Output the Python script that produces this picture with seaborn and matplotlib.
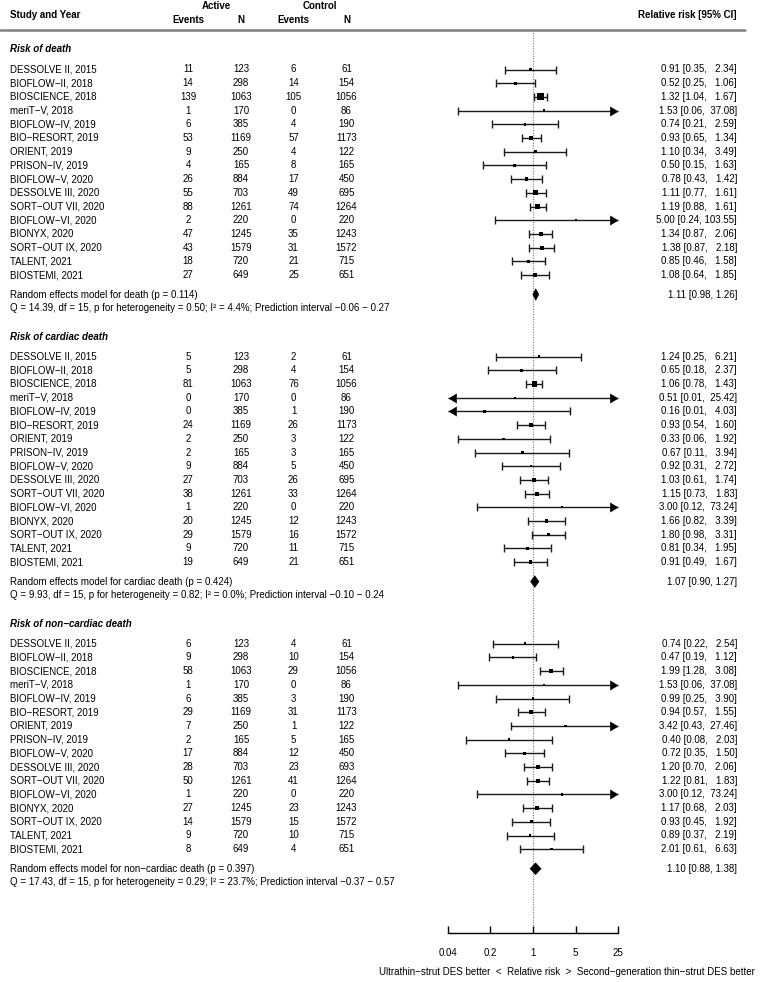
import numpy as np
import pandas as pd
import matplotlib
matplotlib.use("Agg")
import matplotlib.pyplot as plt
import seaborn as sns
from matplotlib.transforms import blended_transform_factory
from matplotlib.path import Path
from matplotlib.lines import Line2D
from matplotlib.ticker import NullLocator

# ---------------- data ----------------
studies = ["DESSOLVE II, 2015", "BIOFLOW\u2212II, 2018", "BIOSCIENCE, 2018", "meriT\u2212V, 2018",
           "BIOFLOW\u2212IV, 2019", "BIO\u2212RESORT, 2019", "ORIENT, 2019", "PRISON\u2212IV, 2019",
           "BIOFLOW\u2212V, 2020", "DESSOLVE III, 2020", "SORT\u2212OUT VII, 2020", "BIOFLOW\u2212VI, 2020",
           "BIONYX, 2020", "SORT\u2212OUT IX, 2020", "TALENT, 2021", "BIOSTEMI, 2021"]

active_n = [123, 298, 1063, 170, 385, 1169, 250, 165, 884, 703, 1261, 220, 1245, 1579, 720, 649]
control_n = [61, 154, 1056, 86, 190, 1173, 122, 165, 450, 695, 1264, 220, 1243, 1572, 715, 651]
control_n_noncardiac = [61, 154, 1056, 86, 190, 1173, 122, 165, 450, 693, 1264, 220, 1243, 1572, 715, 651]

death_act_ev = [11, 14, 139, 1, 6, 53, 9, 4, 26, 55, 88, 2, 47, 43, 18, 27]
death_ctl_ev = [6, 14, 105, 0, 4, 57, 4, 8, 17, 49, 74, 0, 35, 31, 21, 25]
death_rr = [0.91, 0.52, 1.32, 1.53, 0.74, 0.93, 1.10, 0.50, 0.78, 1.11, 1.19, 5.00, 1.34, 1.38, 0.85, 1.08]
death_lo = [0.35, 0.25, 1.04, 0.06, 0.21, 0.65, 0.34, 0.15, 0.43, 0.77, 0.88, 0.24, 0.87, 0.87, 0.46, 0.64]
death_hi = [2.34, 1.06, 1.67, 37.08, 2.59, 1.34, 3.49, 1.63, 1.42, 1.61, 1.61, 103.55, 2.06, 2.18, 1.58, 1.85]

card_act_ev = [5, 5, 81, 0, 0, 24, 2, 2, 9, 27, 38, 1, 20, 29, 9, 19]
card_ctl_ev = [2, 4, 76, 0, 1, 26, 3, 3, 5, 26, 33, 0, 12, 16, 11, 21]
card_rr = [1.24, 0.65, 1.06, 0.51, 0.16, 0.93, 0.33, 0.67, 0.92, 1.03, 1.15, 3.00, 1.66, 1.80, 0.81, 0.91]
card_lo = [0.25, 0.18, 0.78, 0.01, 0.01, 0.54, 0.06, 0.11, 0.31, 0.61, 0.73, 0.12, 0.82, 0.98, 0.34, 0.49]
card_hi = [6.21, 2.37, 1.43, 25.42, 4.03, 1.60, 1.92, 3.94, 2.72, 1.74, 1.83, 73.24, 3.39, 3.31, 1.95, 1.67]

nonc_act_ev = [6, 9, 58, 1, 6, 29, 7, 2, 17, 28, 50, 1, 27, 14, 9, 8]
nonc_ctl_ev = [4, 10, 29, 0, 3, 31, 1, 5, 12, 23, 41, 0, 23, 15, 10, 4]
nonc_rr = [0.74, 0.47, 1.99, 1.53, 0.99, 0.94, 3.42, 0.40, 0.72, 1.20, 1.22, 3.00, 1.17, 0.93, 0.89, 2.01]
nonc_lo = [0.22, 0.19, 1.28, 0.06, 0.25, 0.57, 0.43, 0.08, 0.35, 0.70, 0.81, 0.12, 0.68, 0.45, 0.37, 0.61]
nonc_hi = [2.54, 1.12, 3.08, 37.08, 3.90, 1.55, 27.46, 2.03, 1.50, 2.06, 1.83, 73.24, 2.03, 1.92, 2.19, 6.63]

panel_titles = ["Risk of death", "Risk of cardiac death", "Risk of non\u2212cardiac death"]
re_labels = ["Random effects model for death (p = 0.114)",
             "Random effects model for cardiac death (p = 0.424)",
             "Random effects model for non\u2212cardiac death (p = 0.397)"]
q_labels = ["Q = 14.39, df = 15, p for heterogeneity = 0.50; I\u00b2 = 4.4%; Prediction interval \u22120.06 \u2212 0.27",
            "Q = 9.93, df = 15, p for heterogeneity = 0.82; I\u00b2 = 0.0%; Prediction interval \u22120.10 \u2212 0.24",
            "Q = 17.43, df = 15, p for heterogeneity = 0.29; I\u00b2 = 23.7%; Prediction interval \u22120.37 \u2212 0.57"]
re_est = [1.11, 1.07, 1.10]
re_lo = [0.98, 0.90, 0.88]
re_hi = [1.26, 1.27, 1.38]

x_ticks = [0.04, 0.2, 1, 5, 25]
x_ticklabels = ["0.04", "0.2", "1", "5", "25"]
x_label = "Ultrathin\u2212strut DES better  <  Relative risk  >  Second\u2212generation thin\u2212strut DES better"

panels = [
    (death_act_ev, active_n, death_ctl_ev, control_n, death_rr, death_lo, death_hi),
    (card_act_ev, active_n, card_ctl_ev, control_n, card_rr, card_lo, card_hi),
    (nonc_act_ev, active_n, nonc_ctl_ev, control_n_noncardiac, nonc_rr, nonc_lo, nonc_hi),
]

# ---------------- layout ----------------
W, H = 760, 982
STEP = 13.7
FIRST = [69.5, 356.6, 643.7]
XMIN, XMAX = 0.04, 25
FS = 7

sns.set_theme(style="white")
plt.rcParams['font.family'] = ['Liberation Sans', 'DejaVu Sans']

fig = plt.figure(figsize=(W / 100, H / 100), dpi=100)
ax = fig.add_axes([447.7 / W, (H - 933) / H, (618.3 - 447.7) / W, (933 - 30) / H])
ax.set_xscale('log')
ax.set_xlim(XMIN, XMAX)
ax.set_ylim(933, 30)
ax.patch.set_alpha(0)

tr = blended_transform_factory(fig.transFigure, ax.transData)

def txt(xpx, y, s, ha='left', **kw):
    ax.text(xpx / W, y, s, transform=tr, ha=ha, va='center', fontsize=FS,
            color='black', clip_on=False, **kw)

def ftxt(xpx, ypx, s, ha='left', **kw):
    fig.text(xpx / W, 1 - ypx / H, s, ha=ha, va='center', fontsize=FS, color='black', **kw)

# header
ftxt(10, 15, "Study and Year", fontweight='bold')
ftxt(216, 6, "Active", ha='center', fontweight='bold')
ftxt(320, 6, "Control", ha='center', fontweight='bold')
ftxt(188, 20, "Events", ha='center', fontweight='bold')
ftxt(241, 20, "N", ha='center', fontweight='bold')
ftxt(293.5, 20, "Events", ha='center', fontweight='bold')
ftxt(346.5, 20, "N", ha='center', fontweight='bold')
ftxt(737, 15, "Relative risk [95% CI]", ha='right', fontweight='bold')
fig.add_artist(Line2D([0, 745 / W], [1 - 30 / H, 1 - 30 / H], transform=fig.transFigure,
                      color='#808080', lw=1.8))

# reference line
ax.axvline(1, color='#7a7a7a', lw=0.8, ls=(0, (1, 1.3)), zorder=0)

right_arrow = Path([(0, 0), (-1, 0.6), (-1, -0.6), (0, 0)],
                   [Path.MOVETO, Path.LINETO, Path.LINETO, Path.CLOSEPOLY])
left_arrow = Path([(0, 0), (1, 0.6), (1, -0.6), (0, 0)],
                  [Path.MOVETO, Path.LINETO, Path.LINETO, Path.CLOSEPOLY])

LC = '#1a1a1a'
records = []
for p, (aev, an, cev, cn, rr, lo, hi) in enumerate(panels):
    first = FIRST[p]
    ys = [first + i * STEP for i in range(len(studies))]
    last = ys[-1]
    txt(10, first - 20, panel_titles[p], fontweight='bold', fontstyle='italic')
    for i, y in enumerate(ys):
        txt(10, y, studies[i])
        txt(188, y, str(aev[i]), ha='center')
        txt(241, y, str(an[i]), ha='center')
        txt(293.5, y, str(cev[i]), ha='center')
        txt(346.5, y, str(cn[i]), ha='center')
        txt(737, y, f"{rr[i]:.2f} [{lo[i]:.2f}, {hi[i]:>6.2f}]", ha='right')
        l = max(lo[i], XMIN)
        h = min(hi[i], XMAX)
        ax.plot([l, h], [y, y], color=LC, lw=1.0, solid_capstyle='butt', clip_on=False)
        if lo[i] < XMIN:
            ax.plot([XMIN], [y], marker=left_arrow, ms=12, color='black', mew=0, clip_on=False)
        else:
            ax.plot([l], [y], marker='|', ms=6.2, mew=1.0, color=LC, clip_on=False)
        if hi[i] > XMAX:
            ax.plot([XMAX], [y], marker=right_arrow, ms=12, color='black', mew=0, clip_on=False)
        else:
            ax.plot([h], [y], marker='|', ms=6.2, mew=1.0, color=LC, clip_on=False)
        se = (np.log(hi[i]) - np.log(lo[i])) / (2 * 1.96)
        records.append({"rr": rr[i], "y": y, "weight": 1.0 / se ** 2})
    # summary
    yre = last + 19.5
    yq = last + 33
    txt(10, yre, re_labels[p])
    txt(10, yq, q_labels[p])
    txt(737, yre, f"{re_est[p]:.2f} [{re_lo[p]:.2f}, {re_hi[p]:.2f}]", ha='right')
    ax.fill([re_lo[p], re_est[p], re_hi[p], re_est[p]], [yre, yre - 6.3, yre, yre + 6.3],
            color='black', lw=0)

df = pd.DataFrame(records)
sns.scatterplot(data=df, x="rr", y="y", size="weight", sizes=(2.5, 24), marker='s',
                color='black', linewidth=0, legend=False, ax=ax, zorder=3)
ax.set_xlim(XMIN, XMAX)
ax.set_ylim(933, 30)

# axis styling
for s in ['left', 'top', 'right']:
    ax.spines[s].set_visible(False)
ax.spines['bottom'].set_color('black')
ax.spines['bottom'].set_linewidth(1.0)
ax.set_xticks(x_ticks)
ax.set_xticklabels(x_ticklabels)
ax.xaxis.set_minor_locator(NullLocator())
ax.set_yticks([])
ax.tick_params(axis='x', direction='in', length=5.2, width=1.0, pad=10.5,
               labelsize=FS, colors='black', bottom=True)
ax.set_xlabel("")
ax.set_ylabel("")
ax.grid(False)

ftxt(567, 971.7, x_label, ha='center')

fig.savefig("out.png", dpi=100)
